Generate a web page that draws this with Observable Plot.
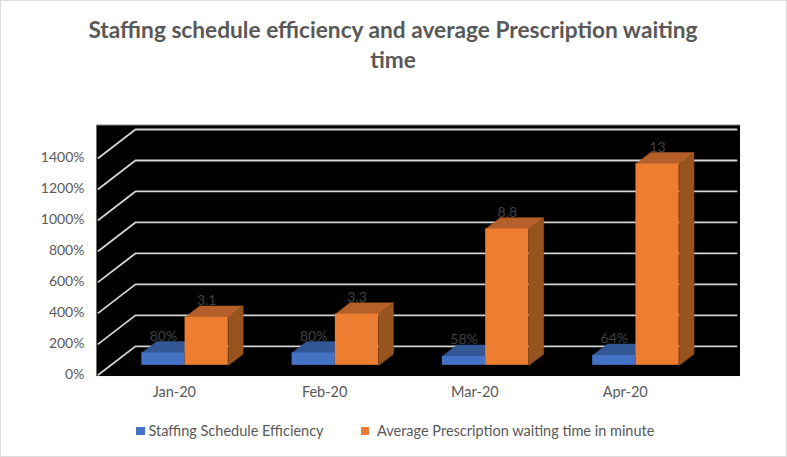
<!DOCTYPE html>
<html>
<head>
<meta charset="utf-8">
<script src="https://cdn.jsdelivr.net/npm/d3@7"></script>
<script src="https://cdn.jsdelivr.net/npm/@observablehq/plot@0.6"></script>
<style>
  html, body { margin: 0; padding: 0; background: #fff; overflow: hidden; }
  #chart { position: relative; width: 787px; height: 457px; box-sizing: border-box;
           border: 1.5px solid #dcdcdc; font-family: Lato, sans-serif; color: #595959; }
  #title { position: absolute; left: -1.5px; top: 13.5px; width: 787px; text-align: center;
           font-size: 22.7px; font-weight: 700; line-height: 30px; color: #595959; margin: 0; }
  #plot { position: absolute; left: -1.5px; top: 108.5px; }
  #legend { position: absolute; left: -1.5px; top: 419.5px; width: 787px; height: 20px;
            font-size: 14.5px; line-height: 20px; }
  .sw { position: absolute; top: 6px; width: 8.5px; height: 8.5px; }
  .lb { position: absolute; top: 0; white-space: nowrap; }
</style>
</head>
<body>
<div id="chart">
  <h1 id="title"></h1>
  <div id="plot"></div>
  <div id="legend"></div>
</div>
<script>
const categories = ["Jan-20", "Feb-20", "Mar-20", "Apr-20"];
const staffing = [0.80, 0.80, 0.58, 0.64];
const staffingLabels = ["80%", "80%", "58%", "64%"];
const waiting = [3.1, 3.3, 8.8, 13];
const waitingLabels = ["3.1", "3.3", "8.8", "13"];
const yTicks = [0, 2, 4, 6, 8, 10, 12, 14];
const seriesNames = ["Staffing Schedule Efficiency", "Average Prescription waiting time in minute"];

const titleLines = ["Staffing schedule efficiency and average Prescription waiting ", "time"];
const blue = {front: "#4472c4", top: "#335794"};
const orange = {front: "#ed7d31", top: "#b5602a", side: "#97541f"};

// oblique projection of the 3D chart box, in data units
const depthX = 0.246, depthV = 1.839;
const project = (x, v, d) => ({x: x + d * depthX, y: v + d * depthV});
const barD0 = 1 / 3, barD1 = 0.733;
const barStart = 0.2065, barWidth = 0.288;

function faces(values, offset) {
  const front = [], top = [], side = [];
  values.forEach((v, i) => {
    const xl = i + barStart + offset * barWidth, xr = xl + barWidth;
    const a = project(xl, 0, barD0), b = project(xr, v, barD0);
    front.push({x1: a.x, x2: b.x, y1: a.y, y2: b.y});
    [[xl, v, barD0], [xr, v, barD0], [xr, v, barD1], [xl, v, barD1]]
      .forEach(p => top.push({...project(...p), z: i}));
    [[xr, 0, barD0], [xr, v, barD0], [xr, v, barD1], [xr, 0, barD1]]
      .forEach(p => side.push({...project(...p), z: i}));
  });
  return {front, top, side};
}
const poly = (rows, fill) => Plot.line(rows, {x: "x", y: "y", z: "z", fill, stroke: fill, strokeWidth: 0.5, curve: "linear-closed"});
const blueF = faces(staffing, 0), orangeF = faces(waiting, 1);

const grid = yTicks.flatMap(v => [[0, v, 0], [0, v, 1], [4, v, 1]].map(p => ({...project(...p), z: v})));

const labelRow = (values, labels, offset) => values.map((v, i) => {
  const p = project(i + barStart + (offset + 0.5) * barWidth, v, barD0);
  return {...p, text: labels[i]};
});

const plot = Plot.plot({
  width: 787,
  height: 290,
  marginLeft: 96,
  marginRight: 47,
  marginTop: 14.5,
  marginBottom: 24.3,
  style: {fontFamily: "Lato, sans-serif", background: "transparent", color: "#595959"},
  x: {domain: [-0.0133, 4.269]},
  y: {domain: [-0.077, 16.13]},
  marks: [
    Plot.frame({fill: "#000", stroke: "none"}),
    Plot.frame({anchor: "top", stroke: "#8c8c8c", strokeWidth: 1}),
    Plot.line(grid, {x: "x", y: "y", z: "z", stroke: "#d4d4d4", strokeWidth: 1.8}),
    poly(blueF.top, blue.top),
    Plot.rect(blueF.front, {x1: "x1", x2: "x2", y1: "y1", y2: "y2", fill: blue.front}),
    poly(orangeF.top, orange.top),
    poly(orangeF.side, orange.side),
    Plot.rect(orangeF.front, {x1: "x1", x2: "x2", y1: "y1", y2: "y2", fill: orange.front}),
    Plot.text(labelRow(staffing, staffingLabels, 0), {x: "x", y: "y", text: "text", dy: -16.5, fontSize: 14, fill: "#404040"}),
    Plot.text(labelRow(waiting, waitingLabels, 1), {x: "x", y: "y", text: "text", dy: -16.5, fontSize: 14, fill: "#404040"}),
    Plot.axisY({ticks: yTicks, tickFormat: d => d * 100 + "%", tickSize: 0, tickPadding: 12, label: null, fontSize: 14, fill: "#595959"}),
    Plot.axisX({ticks: categories.map((c, i) => i + 0.505), tickFormat: d => categories[Math.floor(d)], tickSize: 0, tickPadding: 10.5, label: null, fontSize: 14.5, fill: "#595959"})
  ]
});
document.getElementById("plot").append(plot);

const title = document.getElementById("title");
titleLines.forEach((line, i) => {
  title.append(line);
  if (i < titleLines.length - 1) title.append(document.createElement("br"));
});

const legend = document.getElementById("legend");
[[seriesNames[0], blue.front, 136.5, 149], [seriesNames[1], orange.front, 361, 377.5]].forEach(([name, color, sx, tx]) => {
  const s = document.createElement("span"); s.className = "sw"; s.style.left = sx + "px"; s.style.background = color;
  const t = document.createElement("span"); t.className = "lb"; t.style.left = tx + "px"; t.textContent = name;
  legend.append(s, t);
});
</script>
</body>
</html>
